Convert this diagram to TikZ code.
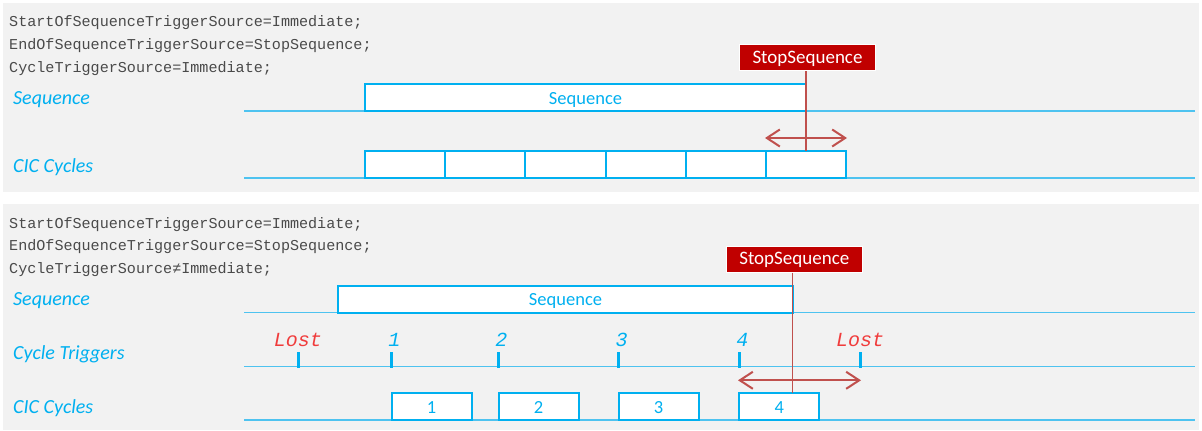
\documentclass[tikz,border=0pt]{standalone}
\usepackage{fontspec}
\setmainfont{Carlito}
\newfontfamily\monof{Liberation Mono}
\usetikzlibrary{arrows.meta}
\definecolor{bg}{HTML}{F2F2F2}
\definecolor{cblue}{HTML}{00B0F0}
\definecolor{lblue}{HTML}{4EC3F0}
\definecolor{dred}{HTML}{C00000}
\definecolor{ared}{HTML}{C0504D}
\definecolor{lred}{HTML}{F03C3C}
\definecolor{codegray}{HTML}{4A4A4A}
\tikzset{
  panel/.style={fill=bg, draw=none},
  code/.style={anchor=base west, font=\monof\fontsize{15.1}{15.1}\selectfont, text=codegray, inner sep=0},
  rowlabel/.style={anchor=base west, font=\itshape\fontsize{20}{20}\selectfont, text=cblue, inner sep=0},
  tl/.style={draw=lblue, line width=1.5},
  bx/.style={draw=cblue, fill=white, line width=2, inner sep=0, text height=14, text depth=1, font=\fontsize{18.5}{18.5}\selectfont, text=cblue},
  stopbox/.style={fill=dred, draw=white, line width=1, text=white, minimum width=136, minimum height=26, inner sep=0, text height=12.5, text depth=1, font=\fontsize{19}{19}\selectfont},
  stopline/.style={draw=ared, line width=1.5},
  dbl/.style={draw=ared, line width=2, {Straight Barb[length=13,width=17]}-{Straight Barb[length=13,width=17]}},
  tickmark/.style={draw=cblue, line width=3},
  tlab/.style={anchor=base, font=\monof\itshape\fontsize{20}{20}\selectfont, inner sep=0},
}
\begin{document}
\begin{tikzpicture}[x=1pt,y=-1pt]
\useasboundingbox (0,0) rectangle (1202,431);
\fill[white] (0,0) rectangle (1202,431);
% panels
\path[panel] (3,3) rectangle (1199,191.5);
\path[panel] (3,204) rectangle (1199,430);

% ---------- Panel 1 ----------
\node[code] (c1a) at (9,27) {StartOfSequenceTriggerSource=Immediate;};
\node[code] (c1b) at (9,49.5) {EndOfSequenceTriggerSource=StopSequence;};
\node[code] (c1c) at (9,72) {CycleTriggerSource=Immediate;};
\node[rowlabel] (l1seq) at (13,104) {Sequence};
\node[rowlabel] (l1cic) at (13,172) {CIC Cycles};

\coordinate (s1a) at (244,111);
\coordinate (s1b) at (1195,111);
\coordinate (k1a) at (244,178);
\coordinate (k1b) at (1195,178);
\draw[tl] (s1a) -- (s1b);
\draw[tl] (k1a) -- (k1b);

\node[bx, minimum width=441, minimum height=27] (seq1) at (585.5,97.5) {Sequence};
\foreach \i/\x in {1/405,2/485,3/565.5,4/646,5/726,6/806}{
  \node[bx, minimum width=80.5, minimum height=27] (cy1\i) at (\x,164.5) {};
}
\node[stopbox] (stop1) at (807.5,57.5) {StopSequence};
\coordinate (stop1end) at (806,151);
\draw[stopline] (stop1.south -| stop1end) -- (stop1end);
\coordinate (a1l) at (765,138);
\coordinate (a1r) at (847,138);
\draw[dbl] (a1l) -- (a1r);

% ---------- Panel 2 ----------
\node[code] (c2a) at (9,228) {StartOfSequenceTriggerSource=Immediate;};
\node[code] (c2b) at (9,250.5) {EndOfSequenceTriggerSource=StopSequence;};
\node[code] (c2c) at (9,273) {CycleTriggerSource≠Immediate;};
\node[rowlabel] (l2seq) at (13,305.5) {Sequence};
\node[rowlabel] (l2trg) at (13,359.5) {Cycle Triggers};
\node[rowlabel] (l2cic) at (13,413.5) {CIC Cycles};

\coordinate (s2a) at (244,312.5);
\coordinate (s2b) at (1195,312.5);
\coordinate (t2a) at (244,366.5);
\coordinate (t2b) at (1195,366.5);
\coordinate (k2a) at (244,420);
\coordinate (k2b) at (1195,420);
\draw[tl] (s2a) -- (s2b);
\draw[tl] (t2a) -- (t2b);
\draw[tl] (k2a) -- (k2b);

\node[bx, minimum width=455, minimum height=27] (seq2) at (565.5,299) {Sequence};

% ticks and labels
\foreach \n/\x/\lab/\col/\dx in {0/298/Lost/lred/0, 1/391.3/1/cblue/3, 2/498.3/2/cblue/3, 3/618.5/3/cblue/3, 4/739.3/4/cblue/3, 5/860/Lost/lred/0}{
  \coordinate (tk\n a) at (\x,352);
  \coordinate (tk\n b) at (\x,367.5);
  \draw[tickmark] (tk\n a) -- (tk\n b);
  \node[tlab, text=\col] (tl\n) at (\x+\dx,346.5) {\lab};
}

\foreach \i/\x in {1/431.5,2/538.5,3/658.5,4/779.3}{
  \node[bx, minimum width=80, minimum height=27] (cy2\i) at (\x,406.7) {\i};
}

\node[stopbox] (stop2) at (794.3,259.2) {StopSequence};
\coordinate (stop2end) at (792.7,393.3);
\draw[stopline] (stop2.south -| stop2end) -- (stop2end);
\coordinate (a2l) at (738,380.3);
\coordinate (a2r) at (861,380.3);
\draw[dbl] (a2l) -- (a2r);
\end{tikzpicture}
\end{document}
